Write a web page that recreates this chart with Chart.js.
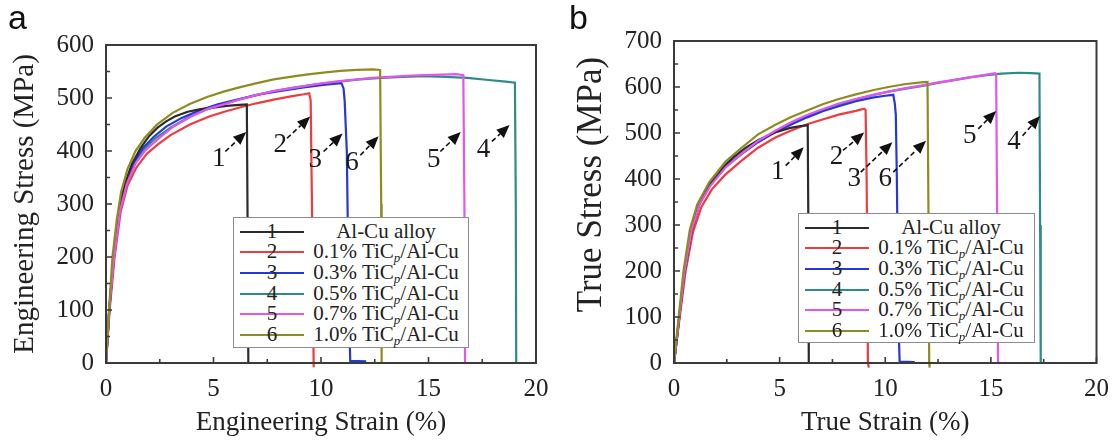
<!DOCTYPE html>
<html>
<head>
<meta charset="utf-8">
<title>TiCp/Al-Cu tensile curves</title>
<script src="https://cdn.jsdelivr.net/npm/chart.js@4.4.1/dist/chart.umd.min.js"></script>
<style>
    html, body { margin: 0; padding: 0; background: #fff; }
    #stage {
        position: relative; width: 1120px; height: 444px; overflow: hidden;
        font-family: "Liberation Serif", "Times New Roman", serif; color: #222;
    }
    .panel { position: absolute; top: 0; width: 560px; height: 444px; }
    .tag {
        position: absolute; top: 0; font-family: "Liberation Sans", Arial, sans-serif;
        font-size: 34px; line-height: 1; color: #111;
    }
    .legend {
        position: absolute; background: #fff; border: 1.5px solid #8c8c8c;
        box-sizing: border-box;
    }
    .legend .row { position: absolute; left: 0; right: 0; height: 21px; }
    .legend .swatch { position: absolute; left: 6px; width: 64px; top: 10px; height: 0; border-top: 2px solid; }
    .legend .num {
        position: absolute; left: 6px; width: 64px; top: 0; text-align: center;
        font-size: 21px; line-height: 21px; color: #222;
    }
    .legend .name {
        position: absolute; left: 76px; width: 152px; top: 0; text-align: center;
        font-size: 21px; line-height: 21px; color: #222; white-space: nowrap;
    }
    .legend sub { font-style: italic; font-size: 0.62em; line-height: 0; vertical-align: -0.3em; }
</style>
</head>
<body>
<div id="stage">
    <div class="panel" style="left:0"><canvas id="engChart" width="560" height="444"></canvas></div>
    <div class="panel" style="left:560px"><canvas id="trueChart" width="560" height="444"></canvas></div>
    <div class="tag" style="left:8px">a</div>
    <div class="tag" style="left:569px">b</div>
    <div class="legend" id="engLegend" style="left:233px;top:217px;width:236px;height:131px"></div>
    <div class="legend" id="trueLegend" style="left:798px;top:213px;width:237px;height:130px"></div>
</div>

<script>
    "use strict";

    // ---------------------------------------------------------
    // Series (strain %, stress MPa)
    // ---------------------------------------------------------
    const seriesNums = ["1", "2", "3", "4", "5", "6"];
    const seriesNames = [
        "Al-Cu alloy",
        "0.1% TiC<sub>p</sub>/Al-Cu",
        "0.3% TiC<sub>p</sub>/Al-Cu",
        "0.5% TiC<sub>p</sub>/Al-Cu",
        "0.7% TiC<sub>p</sub>/Al-Cu",
        "1.0% TiC<sub>p</sub>/Al-Cu"
    ];
    const seriesColors = ["#2b2b2b", "#ef3b3b", "#2538d4", "#2d8c87", "#e455ec", "#8d8d1f"];
    const drawOrder = [2, 4, 3, 5, 1, 0];

    const strainTicks = [0, 5, 10, 15, 20];
    const engStressTicks = [0, 100, 200, 300, 400, 500, 600];
    const trueStressTicks = [0, 100, 200, 300, 400, 500, 600, 700];

    // (a) engineering
    const eng1 = [[0,0],[0.15,100],[0.35,200],[0.58,285],[0.85,335],[1.2,375],[1.6,405],[2.0,428],[2.4,444],
        [2.8,456],[3.2,465],[3.8,474],[4.4,479],[5.0,482],[5.6,485],[6.2,487],[6.55,488],[6.58,300],[6.62,0]];
    const eng2 = [[0,0],[0.17,100],[0.4,200],[0.68,285],[1.0,335],[1.4,368],[1.9,395],[2.4,412],[3.0,430],
        [3.9,450],[4.8,465],[5.5,474],[6.3,483],[7.0,490],[7.8,497],[8.6,503],[9.2,507],[9.45,509],[9.52,495],
        [9.58,300],[9.66,-8]];
    const eng3 = [[0,0],[0.15,100],[0.37,200],[0.62,287],[0.9,338],[1.3,378],[1.7,405],[2.2,426],[2.8,446],
        [3.5,462],[4.3,476],[5.2,488],[6.2,498],[7.2,507],[8.2,514],[9.2,520],[10.2,525],[10.95,528],[11.05,518],
        [11.1,495],[11.2,400],[11.3,100],[11.36,4],[12.1,3]];
    const eng4 = [[0,0],[0.15,100],[0.37,200],[0.63,287],[0.93,338],[1.33,378],[1.75,403],[2.3,424],[3.0,444],
        [3.9,465],[4.8,480],[5.8,493],[6.8,504],[7.8,513],[8.8,520],[9.8,526],[10.8,531],[11.8,535],[12.8,538],
        [13.8,540],[14.8,541],[15.8,540],[16.8,538],[17.8,534],[18.6,531],[19.02,529],[19.06,300],[19.08,0]];
    const eng5 = [[0,0],[0.15,100],[0.38,200],[0.65,287],[0.97,338],[1.38,377],[1.8,400],[2.37,421],[3.1,445],
        [3.92,464],[4.7,479],[5.47,488],[6.2,497],[7.02,506],[7.8,513],[8.57,518],[9.3,523],[10.1,528],[10.9,532],
        [11.67,535],[12.4,538],[13.2,540],[14.0,542],[14.8,543],[15.6,544],[16.3,545],[16.62,543],[16.67,300],[16.7,0]];
    const eng6 = [[0,0],[0.14,100],[0.3,200],[0.5,270],[0.7,322],[1.0,366],[1.37,400],[1.8,425],[2.37,450],
        [3.1,472],[3.92,489],[4.7,502],[5.47,512],[6.2,520],[7.02,528],[7.8,535],[8.57,540],[9.3,544],[10.1,548],
        [10.9,551],[11.67,553],[12.4,554],[12.75,553],[12.8,300],[12.82,0]];

    // (b) true
    const tru1 = [[0,0],[0.25,100],[0.5,200],[0.85,290],[1.2,345],[1.7,390],[2.2,420],[2.8,447],[3.4,468],
        [4.0,485],[4.7,500],[5.5,511],[6.0,515],[6.33,517],[6.36,300],[6.38,0]];
    const tru2 = [[0,0],[0.27,100],[0.55,200],[0.9,285],[1.3,340],[1.8,378],[2.44,410],[3.2,440],[3.98,468],
        [4.8,490],[5.52,505],[6.3,519],[7.07,530],[7.8,540],[8.61,548],[9.0,553],[9.07,550],[9.12,400],[9.18,0],
        [9.22,-10]];
    const tru3 = [[0,0],[0.25,100],[0.5,200],[0.83,290],[1.2,347],[1.7,388],[2.44,428],[3.2,455],[3.98,480],
        [4.8,502],[5.52,518],[6.3,534],[7.07,548],[7.8,558],[8.61,569],[9.4,577],[10.0,581],[10.38,583],
        [10.45,565],[10.5,540],[10.55,400],[10.62,100],[10.68,3],[11.4,2]];
    const tru4 = [[0,0],[0.25,100],[0.5,200],[0.83,290],[1.2,347],[1.7,387],[2.44,426],[3.2,454],[3.98,481],
        [4.8,504],[5.52,521],[6.3,537],[7.07,551],[7.8,562],[8.61,573],[9.4,582],[10.15,590],[10.9,596],
        [11.7,602],[12.5,609],[13.24,615],[14.0,621],[14.8,626],[15.5,629],[16.3,631],[16.9,630],[17.3,629],
        [17.33,300],[17.36,0]];
    const tru5 = [[0,0],[0.25,100],[0.5,200],[0.84,290],[1.22,346],[1.72,385],[2.44,425],[3.2,455],[3.98,483],
        [4.8,505],[5.52,523],[6.3,539],[7.07,552],[7.8,564],[8.61,574],[9.4,583],[10.15,590],[10.9,597],
        [11.7,603],[12.5,610],[13.24,615],[14.0,621],[14.8,627],[15.2,630],[15.25,628],[15.3,300],[15.34,0]];
    const tru6 = [[0,0],[0.22,100],[0.45,200],[0.75,290],[1.1,345],[1.67,393],[2.44,438],[3.2,468],[3.98,497],
        [4.8,518],[5.52,534],[6.3,549],[7.07,563],[7.8,574],[8.61,584],[9.4,593],[10.15,600],[10.9,606],
        [11.7,610],[12.0,611],[12.05,300],[12.08,0],[12.1,-10]];

    // ---------------------------------------------------------
    // Arrow callouts (label text, label anchor, arrow tail, arrow head) in data units
    // ---------------------------------------------------------
    const engNoteText = ["1", "2", "3", "6", "5", "4"];
    const engNoteAt   = [[5.24,386],[8.1,411],[9.73,383],[11.44,377],[15.24,383],[17.56,402]];
    const engNoteFrom = [[5.55,399],[8.42,424],[10.12,399],[11.83,392],[15.55,399],[17.95,418]];
    const engNoteTo   = [[6.52,436],[9.5,465],[11.0,433],[12.68,428],[16.5,436],[18.77,449]];

    const trueNoteText = ["1", "2", "3", "6", "5", "4"];
    const trueNoteAt   = [[4.91,415],[7.69,447],[8.53,400],[10.0,400],[14.0,494],[16.1,480]];
    const trueNoteFrom = [[5.29,429],[8.0,462],[8.84,415],[10.38,415],[14.4,509],[16.5,494]];
    const trueNoteTo   = [[6.14,469],[9.0,501],[10.34,480],[11.93,483],[15.25,548],[17.33,537]];

    const SERIF = '"Liberation Serif", "Times New Roman", serif';

    // ---------------------------------------------------------
    // Plugins: frame + inward ticks, dashed arrow callouts
    // ---------------------------------------------------------
    const frameTicks = {
        id: "frameTicks",
        afterDraw(chart) {
            const { ctx, chartArea: a, scales } = chart;
            const x = scales.x, y = scales.y;
            ctx.save();
            ctx.strokeStyle = "#3a3a3a";
            ctx.lineWidth = 1.6;
            ctx.beginPath();
            const xv = x.ticks.map((t) => t.value);
            xv.forEach((v, i) => {
                const px = x.getPixelForValue(v);
                ctx.moveTo(px, a.bottom); ctx.lineTo(px, a.bottom - 6);
                if (i < xv.length - 1) {
                    const mx = x.getPixelForValue((v + xv[i + 1]) / 2);
                    ctx.moveTo(mx, a.bottom); ctx.lineTo(mx, a.bottom - 4);
                }
            });
            const yv = y.ticks.map((t) => t.value);
            yv.forEach((v, i) => {
                const py = y.getPixelForValue(v);
                ctx.moveTo(a.left, py); ctx.lineTo(a.left + 6, py);
                if (i < yv.length - 1) {
                    const my = y.getPixelForValue((v + yv[i + 1]) / 2);
                    ctx.moveTo(a.left, my); ctx.lineTo(a.left + 4, my);
                }
            });
            ctx.stroke();
            ctx.lineWidth = 2;
            ctx.strokeRect(a.left, a.top, a.right - a.left, a.bottom - a.top);
            ctx.restore();
        }
    };

    function arrowNotes(text, at, from, to) {
        return {
            id: "arrowNotes",
            afterDatasetsDraw(chart) {
                const { ctx, scales } = chart;
                const x = scales.x, y = scales.y;
                ctx.save();
                text.forEach((t, i) => {
                    const fx = x.getPixelForValue(from[i][0]), fy = y.getPixelForValue(from[i][1]);
                    const tx = x.getPixelForValue(to[i][0]), ty = y.getPixelForValue(to[i][1]);
                    const ang = Math.atan2(ty - fy, tx - fx);
                    const head = 13, half = 5.5;
                    const bx = tx - head * Math.cos(ang), by = ty - head * Math.sin(ang);

                    ctx.strokeStyle = "#111";
                    ctx.lineWidth = 1.6;
                    ctx.setLineDash([5, 3]);
                    ctx.beginPath();
                    ctx.moveTo(fx, fy);
                    ctx.lineTo(bx, by);
                    ctx.stroke();
                    ctx.setLineDash([]);

                    ctx.fillStyle = "#111";
                    ctx.beginPath();
                    ctx.moveTo(tx, ty);
                    ctx.lineTo(bx + half * Math.sin(ang), by - half * Math.cos(ang));
                    ctx.lineTo(bx - half * Math.sin(ang), by + half * Math.cos(ang));
                    ctx.closePath();
                    ctx.fill();

                    ctx.font = "27px " + SERIF;
                    ctx.textAlign = "center";
                    ctx.textBaseline = "middle";
                    ctx.fillStyle = "#1a1a1a";
                    ctx.fillText(t, x.getPixelForValue(at[i][0]), y.getPixelForValue(at[i][1]));
                });
                ctx.restore();
            }
        };
    }

    // ---------------------------------------------------------
    // Chart builder
    // ---------------------------------------------------------
    function buildChart(canvasId, curves, cfg) {
        const datasets = curves.map((pts, i) => ({
            label: seriesNums[i],
            data: pts.map((p) => ({ x: p[0], y: p[1] })),
            borderColor: seriesColors[i],
            borderWidth: 2.2,
            pointRadius: 0,
            tension: 0,
            fill: false,
            order: drawOrder[i],
            clip: { left: 0, top: 0, right: 0, bottom: 8 }
        }));

        return new Chart(document.getElementById(canvasId), {
            type: "line",
            data: { datasets: datasets },
            options: {
                responsive: false,
                animation: false,
                events: [],
                layout: { padding: cfg.padding },
                plugins: { legend: { display: false }, tooltip: { enabled: false } },
                scales: {
                    x: {
                        type: "linear", min: 0, max: 20,
                        afterBuildTicks: (s) => { s.ticks = strainTicks.map((v) => ({ value: v })); },
                        afterFit: (s) => { s.height = 81; },
                        grid: { display: false, drawTicks: false },
                        border: { display: false },
                        ticks: { color: "#222", padding: 11, font: { family: SERIF, size: 25 } },
                        title: {
                            display: true, text: cfg.xTitle, color: "#222",
                            padding: { top: 0, bottom: 5 }, font: { family: SERIF, size: 27 }
                        }
                    },
                    y: {
                        type: "linear", min: 0, max: cfg.yMax,
                        afterBuildTicks: (s) => { s.ticks = cfg.yTicks.map((v) => ({ value: v })); },
                        afterFit: (s) => { s.width = cfg.yWidth; },
                        grid: { display: false, drawTicks: false },
                        border: { display: false },
                        ticks: { color: "#222", padding: 12, font: { family: SERIF, size: 25 } },
                        title: {
                            display: true, text: cfg.yTitle, color: "#222",
                            padding: { top: cfg.yTitlePad, bottom: 0 }, font: { family: SERIF, size: cfg.yTitleSize }
                        }
                    }
                }
            },
            plugins: [frameTicks, arrowNotes(cfg.notes[0], cfg.notes[1], cfg.notes[2], cfg.notes[3])]
        });
    }

    function buildLegend(boxId) {
        const box = document.getElementById(boxId);
        seriesNums.forEach((n, i) => {
            const row = document.createElement("div");
            row.className = "row";
            row.style.top = (2.5 + i * 20.7) + "px";
            row.innerHTML =
                '<div class="swatch" style="border-top-color:' + seriesColors[i] + '"></div>' +
                '<div class="num">' + n + "</div>" +
                '<div class="name">' + seriesNames[i] + "</div>";
            box.appendChild(row);
        });
    }

    buildChart("engChart", [eng1, eng2, eng3, eng4, eng5, eng6], {
        padding: { left: 0, top: 45, right: 24, bottom: 0 },
        yWidth: 106, yMax: 600, yTicks: engStressTicks,
        xTitle: "Engineering Strain (%)",
        yTitle: "Engineering Stress (MPa)", yTitleSize: 29, yTitlePad: 8,
        notes: [engNoteText, engNoteAt, engNoteFrom, engNoteTo]
    });

    // the right-hand axis title sits above the plot centre in the figure;
    // two leading en spaces push the visible text upward along the axis
    buildChart("trueChart", [tru1, tru2, tru3, tru4, tru5, tru6], {
        padding: { left: 0, top: 41, right: 14, bottom: 0 },
        yWidth: 114, yMax: 700, yTicks: trueStressTicks,
        xTitle: "True Strain (%)",
        yTitle: "\u2002\u2002True Stress (MPa)", yTitleSize: 35, yTitlePad: 11,
        notes: [trueNoteText, trueNoteAt, trueNoteFrom, trueNoteTo]
    });

    buildLegend("engLegend");
    buildLegend("trueLegend");
</script>
</body>
</html>
